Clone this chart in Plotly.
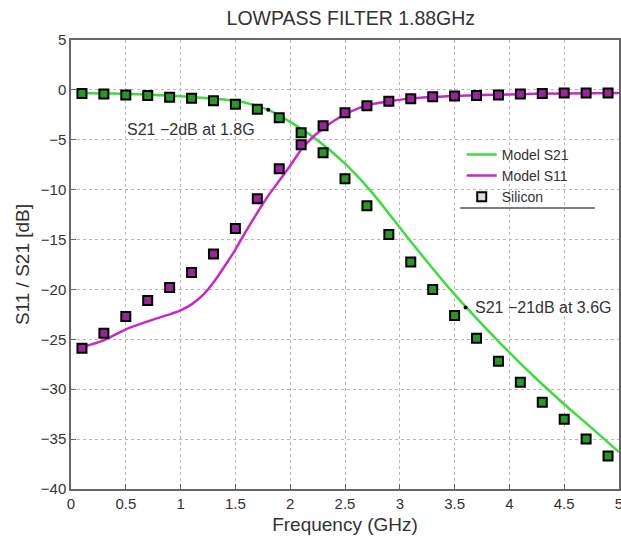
import plotly.graph_objects as go

# ---- data ----
freq_si = [0.1, 0.3, 0.5, 0.7, 0.9, 1.1, 1.3, 1.5, 1.7, 1.9, 2.1, 2.3, 2.5,
           2.7, 2.9, 3.1, 3.3, 3.5, 3.7, 3.9, 4.1, 4.3, 4.5, 4.7, 4.9]
s21_si = [-0.35, -0.4, -0.5, -0.55, -0.75, -0.85, -1.1, -1.45, -1.95, -2.8, -4.3, -6.3, -8.9,
          -11.6, -14.5, -17.25, -20.0, -22.6, -24.9, -27.2, -29.3, -31.3, -33.0, -35.0, -36.7]
s11_si = [-25.9, -24.4, -22.7, -21.1, -19.8, -18.3, -16.45, -13.9, -10.9, -7.9, -5.5, -3.6, -2.3,
          -1.6, -1.15, -0.9, -0.7, -0.6, -0.55, -0.5, -0.4, -0.35, -0.3, -0.3, -0.3]

m21_f = [0.05, 0.3, 0.5, 0.75, 1.0, 1.25, 1.5, 1.65, 1.8, 1.9, 2.0, 2.1, 2.2, 2.3, 2.4, 2.5,
         2.6, 2.7, 2.8, 2.9, 3.0, 3.1, 3.3, 3.5, 3.7, 3.9, 4.1, 4.3, 4.5, 4.7, 5.0]
m21_v = [-0.3, -0.35, -0.4, -0.5, -0.65, -0.85, -1.1, -1.45, -2.0, -2.55, -3.2, -3.9, -4.65, -5.5, -6.4, -7.4,
         -8.5, -9.7, -11.0, -12.4, -13.8, -15.2, -17.9, -20.5, -22.9, -25.2, -27.4, -29.5, -31.5, -33.4, -36.3]

m11_f = [0.1, 0.3, 0.5, 0.7, 0.9, 1.0, 1.1, 1.2, 1.3, 1.4, 1.5, 1.6, 1.7, 1.8, 1.9, 2.0, 2.1, 2.2,
         2.3, 2.4, 2.5, 2.7, 2.9, 3.1, 3.5, 4.0, 4.5, 5.0]
m11_v = [-25.8, -25.1, -24.0, -23.2, -22.5, -22.1, -21.5, -20.6, -19.3, -17.7, -16.0, -14.1, -12.3, -10.6,
         -9.1, -7.6, -6.0, -4.8, -3.9, -3.1, -2.45, -1.55, -1.15, -0.85, -0.6, -0.45, -0.35, -0.3]

note_x = [1.8, 3.6]
note_y = [-2.0, -21.8]
note_text = ["S21 \u22122dB at 1.8G", "S21 \u221221dB at 3.6G"]

x_ticks = [0, 0.5, 1, 1.5, 2, 2.5, 3, 3.5, 4, 4.5, 5]
y_ticks = [5, 0, -5, -10, -15, -20, -25, -30, -35, -40]

GREEN = "rgb(60,220,60)"
MAGENTA = "rgb(200,40,200)"
FONT = "Liberation Sans, Arial, sans-serif"
TXT = "#333333"

fig = go.Figure()
fig.add_trace(go.Scatter(x=m21_f, y=m21_v, mode="lines", name="Model S21",
                         line=dict(color=GREEN, width=2.5, shape="spline", smoothing=0.6)))
fig.add_trace(go.Scatter(x=m11_f, y=m11_v, mode="lines", name="Model S11",
                         line=dict(color=MAGENTA, width=2.5, shape="spline", smoothing=0.6)))
fig.add_trace(go.Scatter(x=freq_si, y=s21_si, mode="markers", name="Silicon", showlegend=False,
                         marker=dict(symbol="square", size=9, color="rgb(40,150,40)",
                                     line=dict(color="black", width=2))))
fig.add_trace(go.Scatter(x=freq_si, y=s11_si, mode="markers", name="Silicon", showlegend=False,
                         marker=dict(symbol="square", size=9, color="rgb(150,40,150)",
                                     line=dict(color="black", width=2))))
# legend entry for measured silicon data
fig.add_trace(go.Scatter(x=[None], y=[None], mode="markers", name="Silicon",
                         marker=dict(symbol="square", size=9, color="#dddddd",
                                     line=dict(color="black", width=2))))
# annotation marker dots
fig.add_trace(go.Scatter(x=note_x, y=note_y, mode="markers", showlegend=False,
                         marker=dict(color="black", size=4)))

fig.add_annotation(x=note_x[0], y=note_y[0], text=note_text[0], showarrow=False,
                   xanchor="right", yanchor="middle", xshift=-11, yshift=-20,
                   font=dict(family=FONT, size=16, color=TXT))
fig.add_annotation(x=note_x[1], y=note_y[1], text=note_text[1], showarrow=False,
                   xanchor="left", yanchor="middle", xshift=7,
                   font=dict(family=FONT, size=16, color=TXT))

# legend background (hides grid) and bottom rule
fig.add_shape(type="rect", xref="paper", yref="paper", x0=0.704, x1=0.989, y0=0.626, y1=0.771,
              fillcolor="white", line=dict(width=0), layer="between")
fig.add_shape(type="line", xref="paper", yref="paper", x0=0.71, x1=0.956, y0=0.626, y1=0.626,
              line=dict(color="#555555", width=1.5))

axis_common = dict(showline=True, linecolor="#666666", linewidth=1.5, mirror=True,
                   ticks="inside", ticklen=5, tickcolor="#666666", automargin=False,
                   ticklabeloverflow="allow",
                   showgrid=True, gridcolor="#b8b8b8", griddash="dot", gridwidth=1,
                   zeroline=False, tickfont=dict(family=FONT, size=15, color=TXT))

fig.update_xaxes(range=[0, 5], tickvals=x_ticks, ticktext=[str(t) for t in x_ticks],
                 title=dict(text="Frequency (GHz)", font=dict(family=FONT, size=19, color=TXT), standoff=7),
                 **axis_common)
fig.update_yaxes(range=[-40, 5], tickvals=y_ticks,
                 title=dict(text="S11 / S21 [dB]", font=dict(family=FONT, size=19, color=TXT), standoff=6),
                 **axis_common)

fig.update_layout(
    width=621, height=539,
    margin=dict(l=71, r=2, t=40, b=50),
    paper_bgcolor="white", plot_bgcolor="white",
    title=dict(text="LOWPASS FILTER 1.88GHz", x=0.565, xanchor="center", y=0.967, yanchor="middle",
               font=dict(family=FONT, size=19.5, color=TXT)),
    legend=dict(x=0.713, y=0.78, xanchor="left", yanchor="top", bgcolor="rgba(0,0,0,0)", borderwidth=0,
                font=dict(family=FONT, size=14, color=TXT), itemwidth=30, tracegroupgap=0),
    showlegend=True,
)

fig.write_html("out.html", config={"displayModeBar": False},
               post_script="document.body.style.margin='0';document.body.style.overflow='hidden';")
